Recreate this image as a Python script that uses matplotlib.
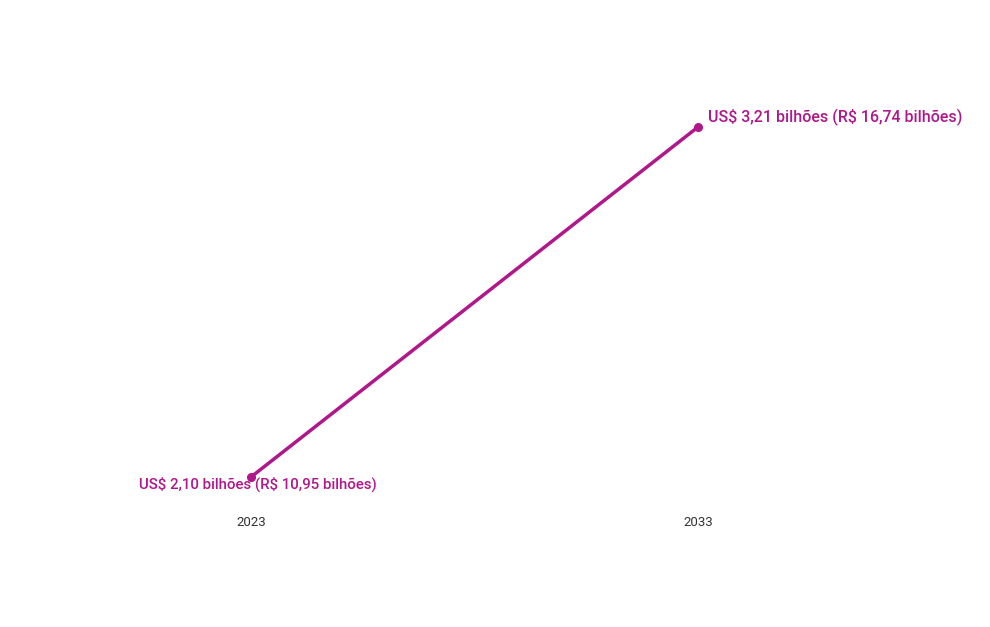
import matplotlib
matplotlib.use("Agg")
import matplotlib.pyplot as plt

years = ["2023", "2033"]
values = [2.10, 3.21]
labels = ["US$ 2,10 bilhões (R$ 10,95 bilhões)", "US$ 3,21 bilhões (R$ 16,74 bilhões)"]
color = "#B0178A"

plt.rcParams['font.family'] = ['Roboto', 'DejaVu Sans']
plt.rcParams['text.parse_math'] = False

fig = plt.figure(figsize=(9.9, 6.27), dpi=100)
W, H = 990, 627
left_px, right_px = 27.5, 921.5
bottom_px, top_px = 510.1, 67.1
ax = fig.add_axes([left_px / W, (H - bottom_px) / H, (right_px - left_px) / W, (bottom_px - top_px) / H])
x = list(range(len(years)))
ax.plot(x, values, color=color, lw=2.5, marker='o', ms=5.5, solid_capstyle='round')
ax.set_xlim(-0.5, 1.5)
ax.set_ylim(1.995, 3.4)
ax.set_xticks(x)
ax.set_xticklabels(years, fontsize=9.5, color="#333333")
ax.tick_params(axis='x', length=0, pad=4)
ax.set_yticks([])
for s in ax.spines.values():
    s.set_visible(False)

ax.annotate(labels[0], (x[0], values[0]), xytext=(5, -5), textcoords='offset points',
            ha='center', va='center', fontsize=10.85, fontweight='medium', color=color)
ax.annotate(labels[1], (x[1], values[1]), xytext=(7.2, 7), textcoords='offset points',
            ha='left', va='center', fontsize=11.5, fontweight='medium', color=color)

fig.savefig("out.png", dpi=100)
